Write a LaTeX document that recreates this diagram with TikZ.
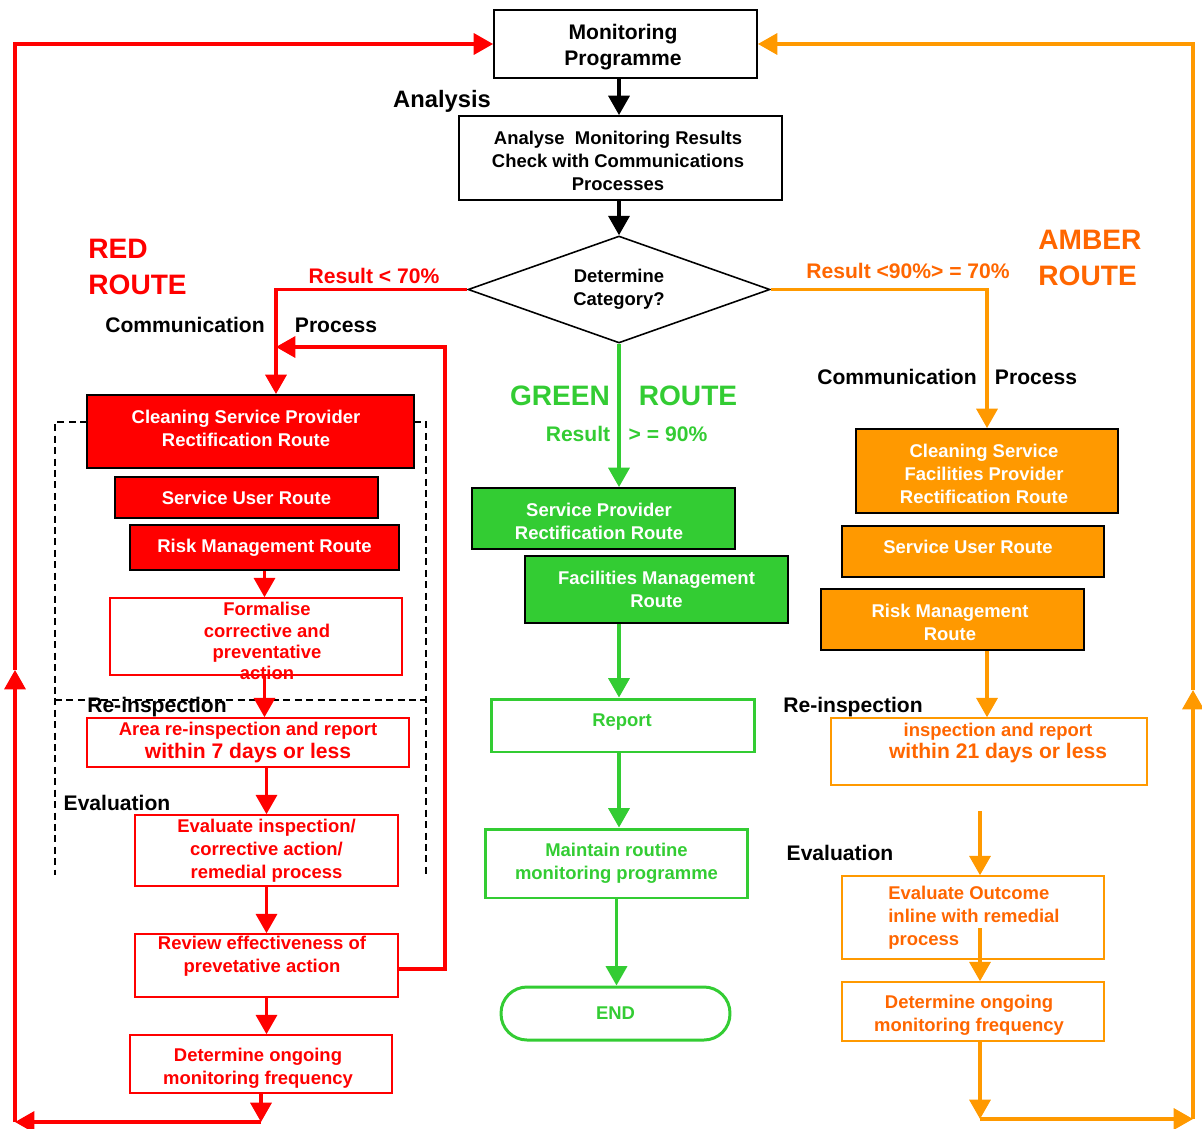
\documentclass[tikz,border=0pt]{standalone}
\usepackage{fontspec}
\setmainfont{Liberation Sans}
\usetikzlibrary{arrows.meta,shapes.geometric}
\definecolor{redc}{HTML}{FF0000}
\definecolor{greenc}{HTML}{33CC33}
\definecolor{amberc}{HTML}{FF9900}
\definecolor{ambertxt}{HTML}{FF6600}
\begin{document}
\begin{tikzpicture}[x=0.02cm, y=-0.02cm,
  every node/.style={font=\bfseries\fontsize{10.5}{13}\selectfont, align=center, inner sep=0pt},
  lbl/.style={font=\bfseries\fontsize{12}{14.5}\selectfont},
  big/.style={font=\bfseries\fontsize{16}{20}\selectfont, align=left, anchor=west},
  blackbox/.style={draw, line width=1.1pt},
  redbox/.style={draw=black, line width=1.1pt, fill=redc, text=white},
  redwbox/.style={draw=redc, line width=0.9pt, text=redc},
  greenbox/.style={draw=black, line width=1.1pt, fill=greenc, text=white},
  greenwbox/.style={draw=greenc, line width=1.7pt, text=greenc},
  amberbox/.style={draw=black, line width=1.1pt, fill=amberc, text=white},
  amberwbox/.style={draw=amberc, line width=0.9pt, text=ambertxt},
  flow/.style={line width=1.8pt, -{Triangle[width=12pt,length=11pt]}},
  ]
  \useasboundingbox (0,0) rectangle (1202,1128);

  % top of the chart
  \node[blackbox, minimum width=5.26cm, minimum height=1.36cm] (mon) at (625.5,44) {};
  \node[lbl] (mont) at (623,47) {Monitoring\\Programme};
  \node[font=\bfseries\fontsize{13.5}{16}\selectfont] (anl) at (442,101) {Analysis};
  \node[blackbox, minimum width=6.46cm, minimum height=1.68cm] (ana) at (620.5,158) {};
  \node (anat) at (618,161) {Analyse\ \ Monitoring Results\\Check with Communications\\Processes};
  \node[diamond, aspect=2.8, draw, line width=0.9pt, minimum width=6.04cm, minimum height=2.14cm] (cat) at (619,289.5) {Determine\\Category?};

  \draw[flow] (cat.north |- mon.south) -- (cat.north |- ana.north);
  \draw[flow] (cat.north |- ana.south) -- (cat.north);

  % red route
  \node[big, text=redc] (rrt) at (88,267) {RED\\ROUTE};
  \node[lbl, text=redc] (rres) at (374,276) {Result < 70\%};
  \node[lbl] (rcom) at (185,325) {Communication};
  \node[lbl] (rpro) at (336,325) {Process};

  \draw[dashed, line width=0.8pt, dash pattern=on 4pt off 2.5pt]
    (87,422) -- (55,422) -- (55,875)
    (414,422) -- (426,422) -- (426,875)
    (55,700) -- (426,700);

  \node[redbox, minimum width=6.54cm, minimum height=1.46cm] (csp) at (250.5,431.5) {};
  \node[text=white] (cspt) at (246,428) {Cleaning Service Provider\\Rectification Route};
  \node[redbox, minimum width=5.26cm, minimum height=0.82cm] (sur) at (246.5,497.5) {Service User Route};
  \node[redbox, minimum width=5.38cm, minimum height=0.90cm] (rmr) at (264.5,547.5) {Risk Management Route};
  \node[redwbox, minimum width=5.84cm, minimum height=1.54cm] (frm) at (256,636.5) {};
  \node[text=redc, font=\bfseries\fontsize{10.5}{12}\selectfont] (frmt) at (267,641) {Formalise\\corrective and\\preventative\\action};
  \node[lbl] (rrei) at (157,707) {Re-inspection};
  \node[redwbox, minimum width=6.44cm, minimum height=0.98cm] (rei) at (248,742.5) {Area re-inspection and report\\\fontsize{12}{13}\selectfont within 7 days or less};
  \node[lbl] (reva) at (117,803) {Evaluation};
  \node[redwbox, minimum width=5.26cm, minimum height=1.42cm] (evr) at (266.5,850.5) {Evaluate inspection/\\corrective action/\\remedial process};
  \node[redwbox, minimum width=5.26cm, minimum height=1.26cm] (rev) at (266.5,965.5) {};
  \node[text=redc] (revt) at (262,956) {Review effectiveness of\\prevetative action};
  \node[redwbox, minimum width=5.24cm, minimum height=1.16cm] (dmr) at (261,1064) {};
  \node[text=redc] (dmrt) at (258,1068) {Determine ongoing\\monitoring frequency};

  \coordinate (rin) at (276,347);
  \coordinate (rbk) at (445,347);
  \coordinate (rc1) at (261,1122);
  \coordinate (rc2) at (15,1122);
  \coordinate (rmid) at (15,670);

  \draw[flow, redc] (cat.west) -| (csp.north -| rin);
  \draw[flow, redc] ([yshift=-0.07cm]rev.east) -| (rbk) -- (rin);
  \draw[flow, redc] (rmr.south) -- (rmr.south |- frm.north);
  \draw[flow, redc] (frm.south -| rmr.south) -- (rei.north -| rmr.south);
  \draw[flow, redc] (evr.north |- rei.south) -- (evr.north);
  \draw[flow, redc] (evr.south) -- (rev.north);
  \draw[flow, redc] (rev.south) -- (rev.south |- dmr.north);
  \draw[flow, redc] (dmr.south) -- (rc1);
  \draw[flow, redc] (rc1) -- (rc2);
  \draw[flow, redc] (rc2) -- (rmid);
  \draw[flow, redc] (rmid) |- (mon.west);

  % green route
  \node[font=\bfseries\fontsize{16}{20}\selectfont, text=greenc] (grt1) at (560,396) {GREEN};
  \node[font=\bfseries\fontsize{16}{20}\selectfont, text=greenc] (grt2) at (688,396) {ROUTE};
  \node[lbl, text=greenc] (gres1) at (578,434) {Result};
  \node[lbl, text=greenc] (gres2) at (668,434) {> = 90\%};

  \node[greenbox, minimum width=5.26cm, minimum height=1.22cm] (spr) at (603.5,518.5) {};
  \node[text=white] (sprt) at (599,521) {Service Provider\\Rectification Route};
  \node[greenbox, minimum width=5.26cm, minimum height=1.34cm] (fmr) at (656.5,589.5) {Facilities Management\\Route};
  \node[greenwbox, minimum width=5.28cm, minimum height=1.06cm] (rep) at (623,725.5) {};
  \node[text=greenc] (rept) at (622,722) {Report};
  \node[greenwbox, minimum width=5.26cm, minimum height=1.38cm] (mrp) at (616.5,863.5) {Maintain routine\\monitoring programme};
  \node[greenwbox, rounded corners=0.52cm, minimum width=4.58cm, minimum height=1.06cm] (end) at (615.5,1013.5) {END};

  \draw[flow, greenc] (cat.south) -- (cat.south |- spr.north);
  \draw[flow, greenc] (cat.south |- fmr.south) -- (cat.south |- rep.north);
  \draw[flow, greenc] (cat.south |- rep.south) -- (cat.south |- mrp.north);
  \draw[flow, greenc] (mrp.south) -- (mrp.south |- end.north);

  % amber route
  \node[big, text=ambertxt] (art) at (1038,258) {AMBER\\ROUTE};
  \node[lbl, text=ambertxt] (ares) at (908,271) {Result <90\%> = 70\%};
  \node[lbl] (acom) at (897,377) {Communication};
  \node[lbl] (apro) at (1036,377) {Process};

  \node[amberbox, minimum width=5.24cm, minimum height=1.68cm] (cfp) at (987,471) {};
  \node[text=white] (cfpt) at (984,474) {Cleaning Service\\Facilities Provider\\Rectification Route};
  \node[amberbox, minimum width=5.24cm, minimum height=1.02cm] (asu) at (973,551.5) {};
  \node[text=white] (asut) at (968,547) {Service User Route};
  \node[amberbox, minimum width=5.26cm, minimum height=1.22cm] (arm) at (952.5,619.5) {};
  \node[text=white] (armt) at (950,622) {Risk Management\\Route};
  \node[lbl] (arei) at (853,707) {Re-inspection};
  \node[amberwbox, minimum width=6.32cm, minimum height=1.34cm] (ari) at (989,751.5) {};
  \node[text=ambertxt] (arit) at (998,743) {inspection and report\\\fontsize{12}{13}\selectfont within 21 days or less};
  \node[lbl] (aeva) at (840,853) {Evaluation};
  \node[amberwbox, minimum width=5.24cm, minimum height=1.66cm] (aeo) at (973,917.5) {};
  \node[text=ambertxt, align=left, anchor=west] (aeot) at (888,918) {Evaluate Outcome\\inline with remedial\\process};
  \node[amberwbox, minimum width=5.24cm, minimum height=1.18cm] (adm) at (973,1011.5) {};
  \node[text=ambertxt] (admt) at (969,1015) {Determine ongoing\\monitoring frequency};

  \coordinate (aft) at (980,811);
  \coordinate (ain) at (980,928);
  \coordinate (ac1) at (980,1119);
  \coordinate (ac2) at (1193,1119);
  \coordinate (amid) at (1193,690);

  \draw[flow, amberc] (cat.east) -| (cfp.north);
  \draw[flow, amberc] (arm.south -| cfp.north) -- (ari.north -| cfp.north);
  \draw[flow, amberc] (aft) -- (aft |- aeo.north);
  \draw[flow, amberc] (ain) -- (ain |- adm.north);
  \draw[flow, amberc] (adm.south -| ac1) -- (ac1);
  \draw[flow, amberc] (ac1) -- (ac2);
  \draw[flow, amberc] (ac2) -- (amid);
  \draw[flow, amberc] (amid) |- (mon.east);
\end{tikzpicture}
\end{document}
